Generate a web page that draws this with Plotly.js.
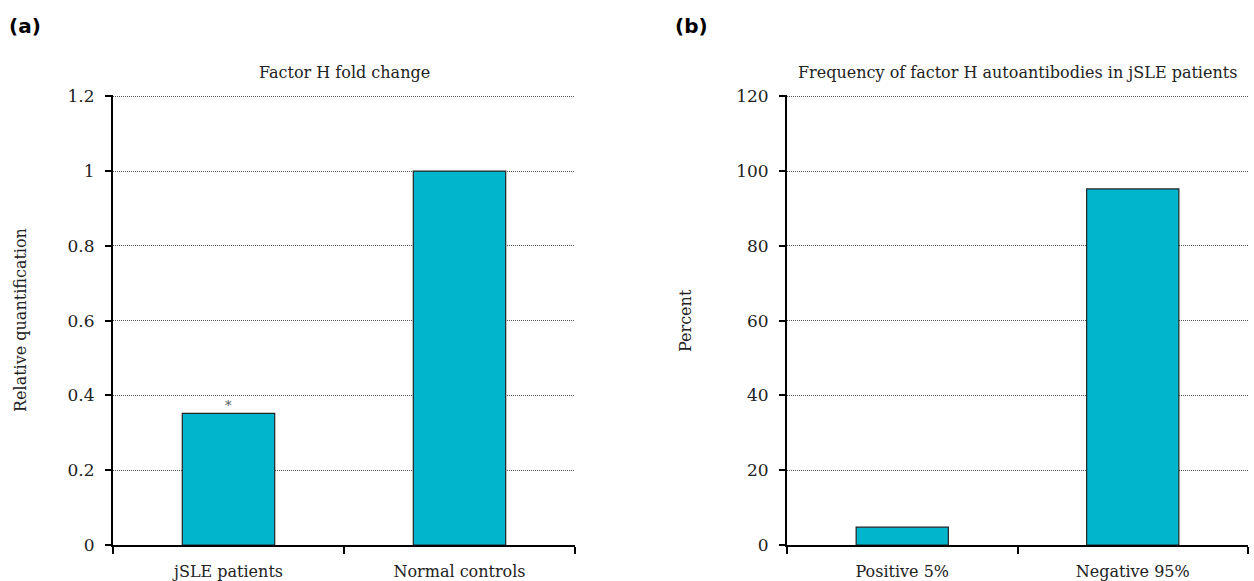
<!DOCTYPE html>
<html>
<head>
<meta charset="utf-8">
<script src="https://cdn.plot.ly/plotly-3.0.1.min.js"></script>
<style>html,body{margin:0;padding:0;background:#fff;}#chart{width:1254px;height:581px;}</style>
</head>
<body>
<div id="chart"></div>
<script>
// Panel (a)
const catsA = ["jSLE patients", "Normal controls"];
const valsA = [0.352, 1.0];
const ticksA = [0, 0.2, 0.4, 0.6, 0.8, 1, 1.2];
const tickTextA = ["0", "0.2", "0.4", "0.6", "0.8", "1", "1.2"];
const titleA = "Factor H fold change";
const yTitleA = "Relative quantification";
const sigMarkA = "*";

// Panel (b)
const catsB = ["Positive 5%", "Negative 95%"];
const valsB = [4.76, 95.24];
const ticksB = [0, 20, 40, 60, 80, 100, 120];
const tickTextB = ["0", "20", "40", "60", "80", "100", "120"];
const titleB = "Frequency of factor H autoantibodies in jSLE patients";
const yTitleB = "Percent";

const barColor = "#00B5CC";
const serif = "DejaVu Serif";
const textFont = {family: serif, size: 16, color: "#222"};
const tickFont = {family: serif, size: 17, color: "#222"};

// plot area in pixels (top 96, bottom 545) -> paper coords
const PT = 95, PB = 545;
function py(pix) { return (PB - pix) / (PB - PT); }

const traces = [
  {type: "bar", x: catsA, y: valsA, xaxis: "x", yaxis: "y", width: 0.4,
   marker: {color: barColor, line: {color: "#222", width: 1.2}}, hoverinfo: "skip"},
  {type: "bar", x: catsB, y: valsB, xaxis: "x2", yaxis: "y2", width: 0.4,
   marker: {color: barColor, line: {color: "#222", width: 1.2}}, hoverinfo: "skip"}
];

function yAxis(ticks, text, top, anchor) {
  return {
    range: [0, top * 1.003], tickmode: "array", tickvals: ticks, ticktext: text,
    showgrid: true, gridcolor: "#555", gridwidth: 1, griddash: "1px,1px",
    zeroline: false, showline: true, linecolor: "#000", linewidth: 2,
    ticks: "outside", ticklen: 6, tickwidth: 2, tickcolor: "#000",
    tickfont: tickFont, anchor: anchor, fixedrange: true, ticklabelstandoff: 7
  };
}
function xAxis(domain, anchor) {
  return {
    domain: domain, anchor: anchor, type: "category", range: [-0.5, 1.5],
    tickson: "boundaries", ticks: "outside", ticklen: 7, tickwidth: 2, tickcolor: "#000",
    showline: true, linecolor: "#000", linewidth: 2, showgrid: false, zeroline: false,
    tickfont: textFont, fixedrange: true, ticklabelstandoff: 11
  };
}

const layout = {
  width: 1254, height: 581,
  margin: {l: 0, r: 0, t: PT, b: 581 - PB},
  paper_bgcolor: "#fff", plot_bgcolor: "#fff",
  showlegend: false,
  font: textFont,
  xaxis: xAxis([113/1254, 575/1254], "y"),
  yaxis: yAxis(ticksA, tickTextA, ticksA[ticksA.length - 1], "x"),
  xaxis2: xAxis([787/1254, 1248/1254], "y2"),
  yaxis2: yAxis(ticksB, tickTextB, ticksB[ticksB.length - 1], "x2"),
  annotations: [
    {text: "<b>(a)</b>", xref: "paper", yref: "paper", x: 7/1254, y: py(26), xanchor: "left", yanchor: "middle",
     showarrow: false, font: {family: "DejaVu Sans", size: 20, color: "#000"}},
    {text: "<b>(b)</b>", xref: "paper", yref: "paper", x: 673/1254, y: py(26), xanchor: "left", yanchor: "middle",
     showarrow: false, font: {family: "DejaVu Sans", size: 20, color: "#000"}},
    {text: titleA, xref: "x domain", yref: "paper", x: 0.5, y: py(73), xanchor: "center", yanchor: "middle",
     showarrow: false, font: textFont},
    {text: titleB, xref: "x2 domain", yref: "paper", x: 0.5, y: py(73), xanchor: "center", yanchor: "middle",
     showarrow: false, font: textFont},
    {text: yTitleA, xref: "paper", yref: "paper", x: 20/1254, y: py(320), xanchor: "center", yanchor: "middle",
     textangle: -90, showarrow: false, font: textFont},
    {text: yTitleB, xref: "paper", yref: "paper", x: 685/1254, y: py(321), xanchor: "center", yanchor: "middle",
     textangle: -90, showarrow: false, font: textFont},
    {text: sigMarkA, xref: "x", yref: "y", x: catsA[0], y: valsA[0], xanchor: "center", yanchor: "bottom",
     yshift: -2, showarrow: false, font: {family: serif, size: 13, color: "#555"}}
  ]
};

Plotly.newPlot("chart", traces, layout, {staticPlot: true, displayModeBar: false});
</script>
</body>
</html>
